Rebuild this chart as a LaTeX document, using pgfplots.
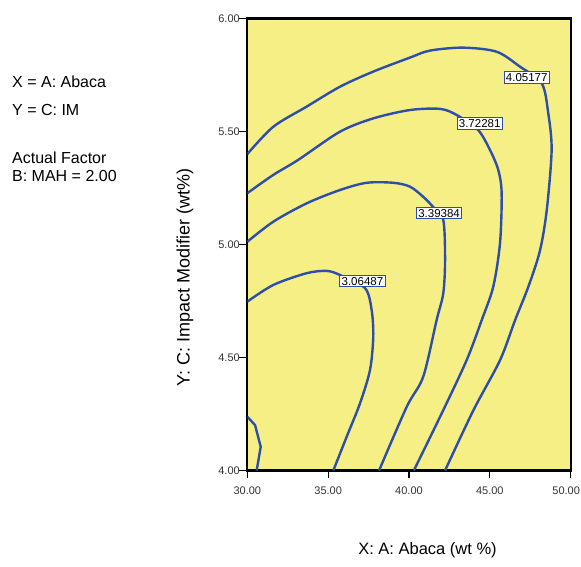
\documentclass[border=0pt]{standalone}
\usepackage{pgfplots}
\pgfplotsset{compat=1.18}
\usepackage{fontspec}
\setmainfont{Liberation Sans}
\definecolor{bg}{RGB}{246,239,133}
\definecolor{cl}{RGB}{45,78,170}
\begin{document}
\begin{tikzpicture}
\path[use as bounding box] (-247.3pt,-96.5pt) rectangle (333.7pt,470.5pt);
\begin{axis}[
  at={(0pt,0pt)}, anchor=south west,
  width=323.4pt, height=452pt, scale only axis,
  xmin=30, xmax=50, ymin=4, ymax=6,
  axis background/.style={fill=bg},
  axis line style={line width=2.2pt, black},
  xtick={30,35,40,45,50}, ytick={4,4.5,5,5.5,6},
  xticklabels={30.00,35.00,40.00,45.00,{\hspace*{-9pt}50.00}},
  yticklabels={4.00,4.50,5.00,5.50,6.00},
  xtick pos=bottom, ytick pos=left,
  tick align=outside, major tick length=8pt,
  tick style={black, line width=1.2pt},
  ticklabel style={font=\fontsize{11}{12}\selectfont, text=black!80},
  xticklabel style={yshift=-5pt},
  yticklabel style={xshift=4pt},
  /pgf/number format/assume math mode=true,
  clip=true,
]
% 3.06487 (main branch)
\addplot[cl, line width=2.4pt, smooth, tension=0.5] coordinates {
(30,4.747) (31.61,4.821) (33.67,4.873) (34.91,4.883) (35.73,4.865) (37.28,4.807)
(37.69,4.710) (37.79,4.592) (37.59,4.445) (36.97,4.297) (36.15,4.150) (35.32,4.0)};
% 3.06487 (small corner branch)
\addplot[cl, line width=2.4pt] coordinates {
(30,4.238) (30.48,4.201) (30.83,4.105) (30.58,4.0)};
% 3.39384
\addplot[cl, line width=2.4pt, smooth, tension=0.5] coordinates {
(30,5.012) (31.61,5.101) (33.67,5.182) (35.73,5.241) (37.38,5.273) (39.03,5.273)
(40.06,5.256) (40.88,5.211) (41.48,5.167) (42.12,5.108) (42.23,4.931) (42.12,4.784)
(41.71,4.666) (40.88,4.415) (39.86,4.282) (38.15,4.0)};
% 3.72281
\addplot[cl, line width=2.4pt, smooth, tension=0.5] coordinates {
(30,5.227) (31.61,5.308) (33.14,5.374) (35.73,5.499) (37.79,5.558) (40.06,5.595)
(41.92,5.600) (42.95,5.573) (44.27,5.507) (45.01,5.418) (45.52,5.330) (45.73,5.228)
(45.63,5.007) (45.21,4.813) (44.50,4.666) (43.57,4.489) (42.12,4.267) (40.30,4.0)};
% 4.05177
\addplot[cl, line width=2.4pt, smooth, tension=0.5] coordinates {
(30,5.400) (31.61,5.521) (33.67,5.610) (35.73,5.698) (37.79,5.765) (40.06,5.827)
(41.30,5.858) (43.34,5.871) (45.42,5.853) (46.86,5.787) (48.21,5.713)
(48.61,5.582) (48.82,5.418) (48.52,5.153) (48.10,4.973) (47.38,4.813) (46.56,4.665)
(45.63,4.488) (43.98,4.266) (42.23,4.0)};
\tikzset{clab/.style={fill=white, draw=cl, line width=1pt, inner xsep=1.8pt, inner ysep=1.8pt,
  font=\fontsize{11.5}{11.5}\selectfont, text=black}}
\node[clab] at (axis cs:37.12,4.838) {3.06487};
\node[clab] at (axis cs:41.86,5.139) {3.39384};
\node[clab] at (axis cs:44.37,5.537) {3.72281};
\node[clab] at (axis cs:47.28,5.740) {4.05177};
\end{axis}
\node[font=\fontsize{16.5}{18}\selectfont] at (180.2pt,-79.5pt) {X: A: Abaca (wt \%)};
\node[font=\fontsize{18}{20}\selectfont, rotate=90] at (-62.3pt,193pt) {Y: C: Impact Modifier (wt\%)};
\node[font=\fontsize{16}{18}\selectfont, anchor=base west, inner sep=0pt] at (-235.3pt,382.5pt) {X = A: Abaca};
\node[font=\fontsize{16}{18}\selectfont, anchor=base west, inner sep=0pt] at (-235.3pt,354.5pt) {Y = C: IM};
\node[font=\fontsize{16}{18}\selectfont, anchor=base west, inner sep=0pt] at (-235.3pt,306.5pt) {Actual Factor};
\node[font=\fontsize{16}{18}\selectfont, anchor=base west, inner sep=0pt] at (-235.3pt,288.5pt) {B: MAH = 2.00};
\end{tikzpicture}
\end{document}
